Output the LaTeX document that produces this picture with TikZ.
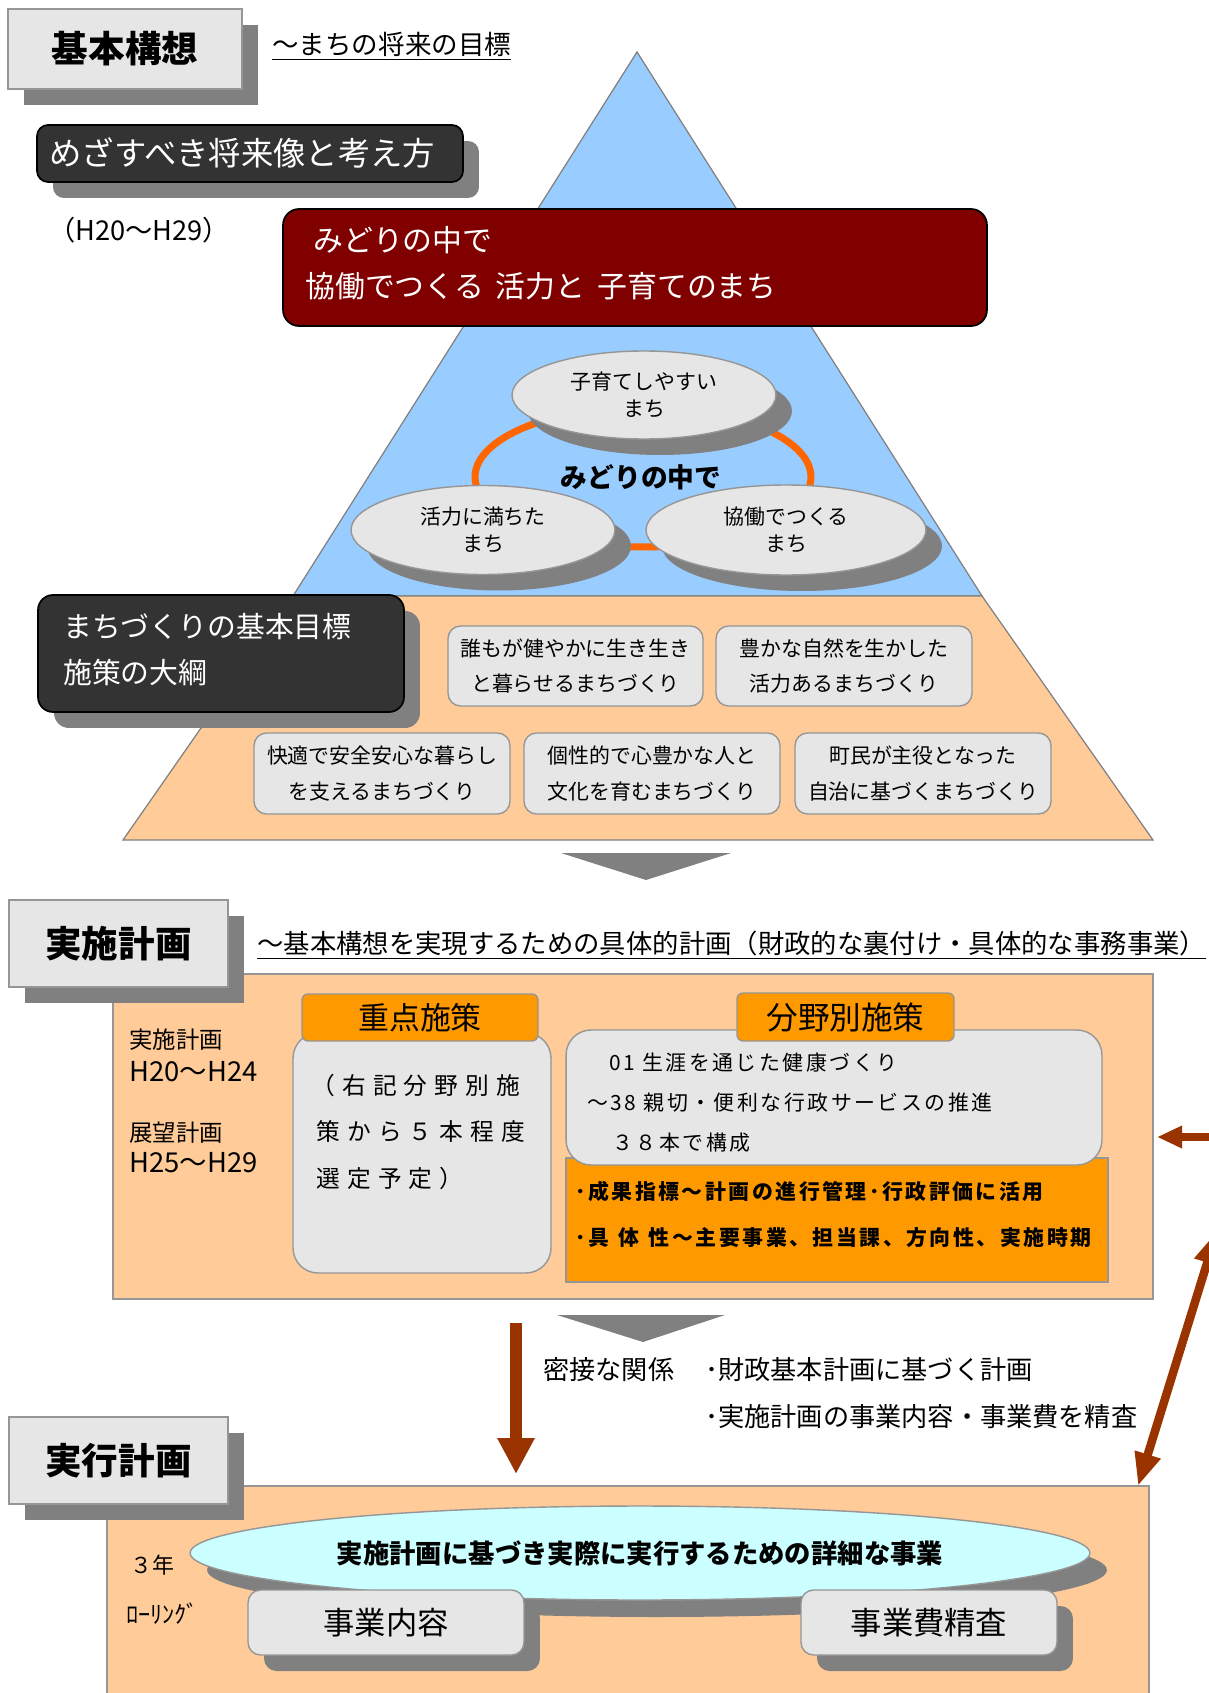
\documentclass[tikz,border=0pt]{standalone}
\usepackage{fontspec}
\setmainfont{Noto Sans CJK JP}
\usetikzlibrary{shadows,arrows.meta,shapes.geometric}
\definecolor{lgray}{HTML}{E6E6E6}
\definecolor{bgray}{HTML}{969696}
\definecolor{sgray}{HTML}{808080}
\definecolor{darkc}{HTML}{333333}
\definecolor{maroonc}{HTML}{800000}
\definecolor{skyb}{HTML}{99CCFF}
\definecolor{peach}{HTML}{FFCC99}
\definecolor{orng}{HTML}{FF9900}
\definecolor{ringc}{HTML}{FF6600}
\definecolor{arrc}{HTML}{993300}
\definecolor{cyanl}{HTML}{CCFFFF}
\newcommand{\FS}[2]{\fontsize{#1}{#2}\selectfont}
\tikzset{
  shad/.style={drop shadow={shadow xshift=0.32cm, shadow yshift=-0.32cm, fill=sgray, opacity=1}},
  hdr/.style={draw=bgray, line width=0.9pt, fill=lgray, shad, inner sep=0, font=\FS{20.8pt}{24pt}\bfseries},
  darkbox/.style={draw=black, line width=1pt, fill=darkc, rounded corners=0.22cm, shad, inner sep=0},
  pbox/.style={draw=bgray, line width=0.8pt, fill=lgray, rounded corners=0.25cm, inner sep=0, align=center, font=\FS{11.9pt}{20.3pt}},
  ell/.style={ellipse, draw=bgray, line width=0.8pt, fill=lgray, inner sep=0, align=center, font=\FS{11.9pt}{15.8pt}, shad},
  tabbox/.style={draw=bgray, line width=0.8pt, fill=orng, rounded corners=0.12cm, inner sep=0},
  txt/.style={inner sep=0, anchor=west},
  bigarrow/.style={arrc, line width=0.24cm, -{Triangle[length=0.72cm, width=0.7cm]}},
}
\begin{document}
\begin{tikzpicture}[x=0.02cm,y=-0.02cm]
\useasboundingbox (0,0) rectangle (1208,1693);

% ---------- pyramid ----------
\path[fill=skyb, draw=sgray, line width=0.7pt] (637,52) -- (293,596) -- (982,596) -- cycle;
\path[fill=peach, draw=sgray, line width=0.7pt] (293,596) -- (123,840) -- (1153,840) -- (982,596) -- cycle;

\draw[ringc, line width=0.14cm] (643,477) ellipse [x radius=3.36cm, y radius=1.4cm];

\node[ell, minimum width=5.28cm, minimum height=1.76cm] (e1) at (644,395) {子育てしやすい\\まち};
\node[ell, minimum width=5.28cm, minimum height=1.78cm] (e2) at (483,530) {活力に満ちた\\まち};
\node[ell, minimum width=5.6cm, minimum height=1.8cm] (e3) at (786,530) {協働でつくる\\まち};
\node[inner sep=0, font=\FS{15.2pt}{18pt}\bfseries] (mid) at (641,477) {みどりの中で};

% red goal box
\node[draw=black, line width=1pt, fill=maroonc, rounded corners=0.32cm, minimum width=14.08cm, minimum height=2.34cm, inner sep=0] (goal) at (635,267.5) {};
\node[txt, white, font=\FS{17pt}{20pt}] (g1) at (313,240) {みどりの中で};
\node[txt, white, font=\FS{17pt}{20pt}] (g2) at (305,286) {協働でつくる\hspace{0.4em}活力と\hspace{0.4em}子育てのまち};

% top-left
\node[hdr, minimum width=4.68cm, minimum height=1.6cm] (kihon) at (125,49) {基本構想};
\node[txt, font=\FS{15.1pt}{17pt}] (sub1) at (272,46) {\underline{〜まちの将来の目標}};
\node[darkbox, minimum width=8.52cm, minimum height=1.14cm] (mezasu) at (250,153.5) {};
\node[txt, white, font=\FS{18.4pt}{20pt}] (mezasut) at (49,153) {めざすべき将来像と考え方};
\node[txt, font=\FS{15.5pt}{17pt}] (h2029) at (48,230) {（H20〜H29）};

% basic goals
\node[darkbox, rounded corners=0.3cm, minimum width=7.32cm, minimum height=2.34cm] (machi) at (221,653.5) {};
\node[txt, white, font=\FS{16.4pt}{18pt}] (m1) at (63,627) {まちづくりの基本目標};
\node[txt, white, font=\FS{16.4pt}{18pt}] (m2) at (63,673) {施策の大綱};

\node[pbox, minimum width=5.1cm, minimum height=1.6cm] (p1) at (575.5,666) {誰もが健やかに生き生き\\と暮らせるまちづくり};
\node[pbox, minimum width=5.12cm, minimum height=1.6cm] (p2) at (844,666) {豊かな自然を生かした\\活力あるまちづくり};
\node[pbox, minimum width=5.12cm, minimum height=1.62cm] (p3) at (382,773.5) {快適で安全安心な暮らし\\を支えるまちづくり};
\node[pbox, minimum width=5.12cm, minimum height=1.62cm] (p4) at (652,773.5) {個性的で心豊かな人と\\文化を育むまちづくり};
\node[pbox, minimum width=5.12cm, minimum height=1.62cm] (p5) at (923,773.5) {町民が主役となった\\自治に基づくまちづくり};

\fill[sgray] (561,853) -- (731,853) -- (646,880) -- cycle;

% ---------- implementation plan ----------
\node[draw=bgray, line width=0.8pt, fill=peach, minimum width=20.8cm, minimum height=6.5cm, inner sep=0] (panel1) at (633,1136.5) {};
\node[hdr, minimum width=4.38cm, minimum height=1.74cm] (jisshi) at (118.5,943.5) {実施計画};
\node[txt, font=\FS{15pt}{17pt}] (sub2) at (257,945) {\underline{〜基本構想を実現するための具体的計画（財政的な裏付け・具体的な事務事業）}};

\node[txt, font=\FS{13.3pt}{15pt}] (l1) at (129,1040) {実施計画};
\node[txt, font=\FS{15.6pt}{17pt}] (l2) at (129,1072) {H20〜H24};
\node[txt, font=\FS{13.3pt}{15pt}] (l3) at (129,1133) {展望計画};
\node[txt, font=\FS{15.6pt}{17pt}] (l4) at (129,1163) {H25〜H29};

\node[draw=bgray, line width=0.8pt, fill=lgray, rounded corners=0.5cm, minimum width=5.16cm, minimum height=4.8cm, inner sep=0] (jbox) at (422,1153) {};
\node[tabbox, minimum width=4.72cm, minimum height=0.94cm, font=\FS{17.6pt}{20pt}] (jtab) at (420,1017.5) {重点施策};
\node[txt, font=\FS{13.5pt}{15pt}\addfontfeatures{LetterSpace=30}] (j1) at (311,1085) {（右記分野別施};
\node[txt, font=\FS{13.5pt}{15pt}\addfontfeatures{LetterSpace=30}] (j2) at (316,1131) {策から５本程度};
\node[txt, font=\FS{13.5pt}{15pt}\addfontfeatures{LetterSpace=30}] (j3) at (316,1178) {選定予定）};

\node[draw=bgray, line width=0.8pt, fill=orng, minimum width=10.84cm, minimum height=2.48cm, inner sep=0] (obox) at (837,1220) {};
\node[draw=bgray, line width=0.8pt, fill=lgray, rounded corners=0.5cm, minimum width=10.72cm, minimum height=2.7cm, inner sep=0] (bbox) at (834,1097.5) {};
\node[tabbox, minimum width=4.34cm, minimum height=0.96cm, font=\FS{18pt}{20pt}] (btab) at (845.5,1017) {分野別施策};
\node[txt, font=\FS{11.9pt}{14pt}\addfontfeatures{LetterSpace=12}] (b1) at (609,1063) {01 生涯を通じた健康づくり};
\node[txt, font=\FS{11.9pt}{14pt}\addfontfeatures{LetterSpace=12}] (b2) at (587,1103) {〜38 親切・便利な行政サービスの推進};
\node[txt, font=\FS{11.9pt}{14pt}\addfontfeatures{LetterSpace=12}] (b3) at (612,1143) {３８本で構成};
\node[txt, font=\FS{11.9pt}{14pt}\bfseries\addfontfeatures{LetterSpace=12}] (o1) at (575,1192) {･成果指標〜計画の進行管理･行政評価に活用};
\node[txt, font=\FS{11.9pt}{14pt}\bfseries\addfontfeatures{LetterSpace=12}] (o2) at (575,1238) {･具\hspace{0.45em}体\hspace{0.45em}性〜主要事業、担当課、方向性、実施時期};

% ---------- between ----------
\fill[sgray] (557,1315) -- (725,1315) -- (643,1342) -- cycle;
\coordinate (v1) at (516,1323);
\coordinate (v2) at (516,1474);
\draw[bigarrow] (v1) -- (v2);
\node[txt, font=\FS{14.9pt}{17pt}] (rel) at (543,1370) {密接な関係};
\node[txt, font=\FS{14.9pt}{17pt}] (r1) at (705,1370) {･財政基本計画に基づく計画};
\node[txt, font=\FS{14.9pt}{17pt}] (r2) at (705,1417) {･実施計画の事業内容・事業費を精査};

% ---------- execution plan ----------
\node[draw=bgray, line width=0.8pt, fill=peach, minimum width=20.84cm, minimum height=4.8cm, inner sep=0] (panel2) at (628,1606) {};
\node[hdr, minimum width=4.38cm, minimum height=1.74cm] (jikko) at (118.5,1460.5) {実行計画};

\node[ellipse, draw=bgray, line width=0.8pt, fill=cyanl, minimum width=18cm, minimum height=1.88cm, inner sep=0,
      drop shadow={shadow xshift=0.34cm, shadow yshift=-0.34cm, fill=sgray, opacity=1},
      font=\FS{15pt}{17pt}\bfseries] (detail) at (640,1553) {実施計画に基づき実際に実行するための詳細な事業};
\node[draw=bgray, line width=0.8pt, fill=lgray, rounded corners=0.25cm, shad, minimum width=5.52cm, minimum height=1.3cm, inner sep=0, font=\FS{17.8pt}{20pt}] (naiyo) at (386,1622.5) {事業内容};
\node[draw=bgray, line width=0.8pt, fill=lgray, rounded corners=0.25cm, shad, minimum width=5.12cm, minimum height=1.3cm, inner sep=0, font=\FS{17.8pt}{20pt}] (seisa) at (929,1622.5) {事業費精査};
\node[txt, font=\FS{12.5pt}{14pt}] (san) at (130,1565) {３年};
\node[txt, font=\FS{13.8pt}{15pt}] (roll) at (126,1614) {ﾛｰﾘﾝｸﾞ};

% right arrows
\coordinate (h1) at (1157,1137);
\coordinate (h2) at (1262,1137);
\draw[arrc, line width=0.16cm, {Triangle[length=0.5cm, width=0.42cm]}-{Triangle[length=0.5cm, width=0.42cm]}] (h1) -- (h2);
\coordinate (d1) at (1138,1486);
\coordinate (d2) at (1217,1231);
\draw[arrc, line width=0.17cm, {Triangle[length=0.66cm, width=0.5cm]}-{Triangle[length=0.66cm, width=0.5cm]}] (d1) -- (d2);
\end{tikzpicture}
\end{document}
